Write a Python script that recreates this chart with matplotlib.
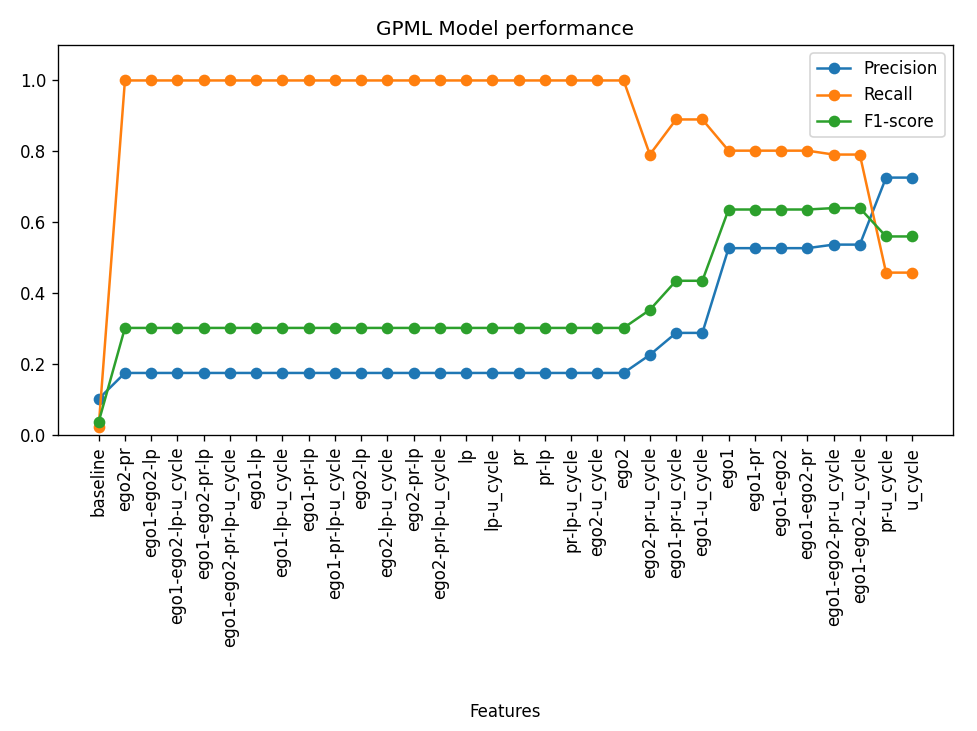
import matplotlib
matplotlib.use("Agg")
import matplotlib.pyplot as plt

features = ["baseline", "ego2-pr", "ego1-ego2-lp", "ego1-ego2-lp-u_cycle", "ego1-ego2-pr-lp",
            "ego1-ego2-pr-lp-u_cycle", "ego1-lp", "ego1-lp-u_cycle", "ego1-pr-lp",
            "ego1-pr-lp-u_cycle", "ego2-lp", "ego2-lp-u_cycle", "ego2-pr-lp",
            "ego2-pr-lp-u_cycle", "lp", "lp-u_cycle", "pr", "pr-lp", "pr-lp-u_cycle",
            "ego2-u_cycle", "ego2", "ego2-pr-u_cycle", "ego1-pr-u_cycle", "ego1-u_cycle",
            "ego1", "ego1-pr", "ego1-ego2", "ego1-ego2-pr", "ego1-ego2-pr-u_cycle",
            "ego1-ego2-u_cycle", "pr-u_cycle", "u_cycle"]

precision = [0.102] + [0.175] * 20 + [0.226, 0.288, 0.288, 0.527, 0.527, 0.527, 0.527,
                                       0.537, 0.537, 0.726, 0.726]
recall = [0.023] + [1.0] * 20 + [0.791, 0.890, 0.890, 0.802, 0.802, 0.802, 0.802,
                                  0.791, 0.791, 0.458, 0.458]
f1 = [0.037] + [0.302] * 20 + [0.353, 0.435, 0.435, 0.636, 0.636, 0.636, 0.636,
                               0.640, 0.640, 0.560, 0.560]

DPI = 120
fig = plt.figure(figsize=(977/DPI, 731/DPI), dpi=DPI)
ax = fig.add_axes([58/977, 1-435/731, (953-58)/977, (435-45)/731])
ax.plot(features, precision, marker="o", label="Precision")
ax.plot(features, recall, marker="o", label="Recall")
ax.plot(features, f1, marker="o", label="F1-score")
ax.set_ylim(0, 1.1)
ax.set_title("GPML Model performance")
ax.set_xlabel("Features")
ax.xaxis.set_label_coords(0.5, (435-703)/390)
ax.tick_params(axis="x", rotation=90)
ax.legend(loc="upper right")
fig.savefig("out.png", dpi=DPI)
